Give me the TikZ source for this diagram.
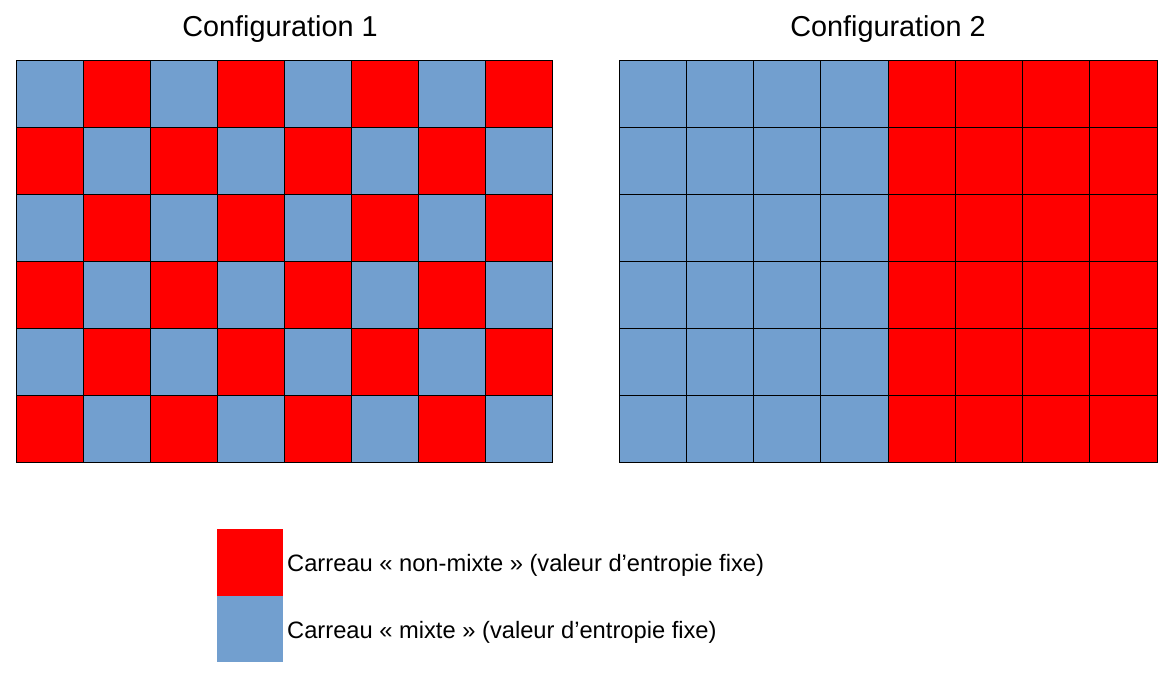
\documentclass[tikz,border=0pt]{standalone}
\usepackage{fontspec}
\setmainfont{Liberation Sans}
\usepackage{tikz}

\definecolor{mixblue}{HTML}{729FCF}
\definecolor{purered}{HTML}{FF0000}

\begin{document}
\begin{tikzpicture}[x=1pt,y=-1pt]
  \useasboundingbox (0,0) rectangle (1174,680);
  \def\cellw{67}
  \def\cellh{67}
  \tikzset{carreau/.style={draw=black,line width=0.8pt}}

  % Titles
  \node (titreA) at (280,29) {\fontsize{28.8}{34}\selectfont Configuration 1};
  \node (titreB) at (888,29) {\fontsize{28.8}{34}\selectfont Configuration 2};

  % Configuration 1 : damier
  \foreach \i in {0,...,7} {
    \foreach \j in {0,...,5} {
      \pgfmathtruncatemacro\parite{mod(\i+\j,2)}
      \ifnum\parite=0 \def\couleur{mixblue}\else \def\couleur{purered}\fi
      \filldraw[carreau,fill=\couleur] (16+\i*\cellw,60+\j*\cellh) rectangle ++(\cellw,\cellh);
    }
  }

  % Configuration 2 : deux blocs
  \foreach \i in {0,...,7} {
    \foreach \j in {0,...,5} {
      \ifnum\i<4 \def\couleur{mixblue}\else \def\couleur{purered}\fi
      \filldraw[carreau,fill=\couleur] (619+\i*67.25,60+\j*\cellh) rectangle ++(67.25,\cellh);
    }
  }

  % Legend
  \fill[purered] (217,529) rectangle (283,596);
  \fill[mixblue] (217,596) rectangle (283,662);
  \node[anchor=west,inner sep=0pt] (legA) at (287,565) {\fontsize{23.7}{28}\selectfont Carreau « non-mixte » (valeur d’entropie fixe)};
  \node[anchor=west,inner sep=0pt] (legB) at (287,632) {\fontsize{23.7}{28}\selectfont Carreau « mixte » (valeur d’entropie fixe)};

\end{tikzpicture}
\end{document}
